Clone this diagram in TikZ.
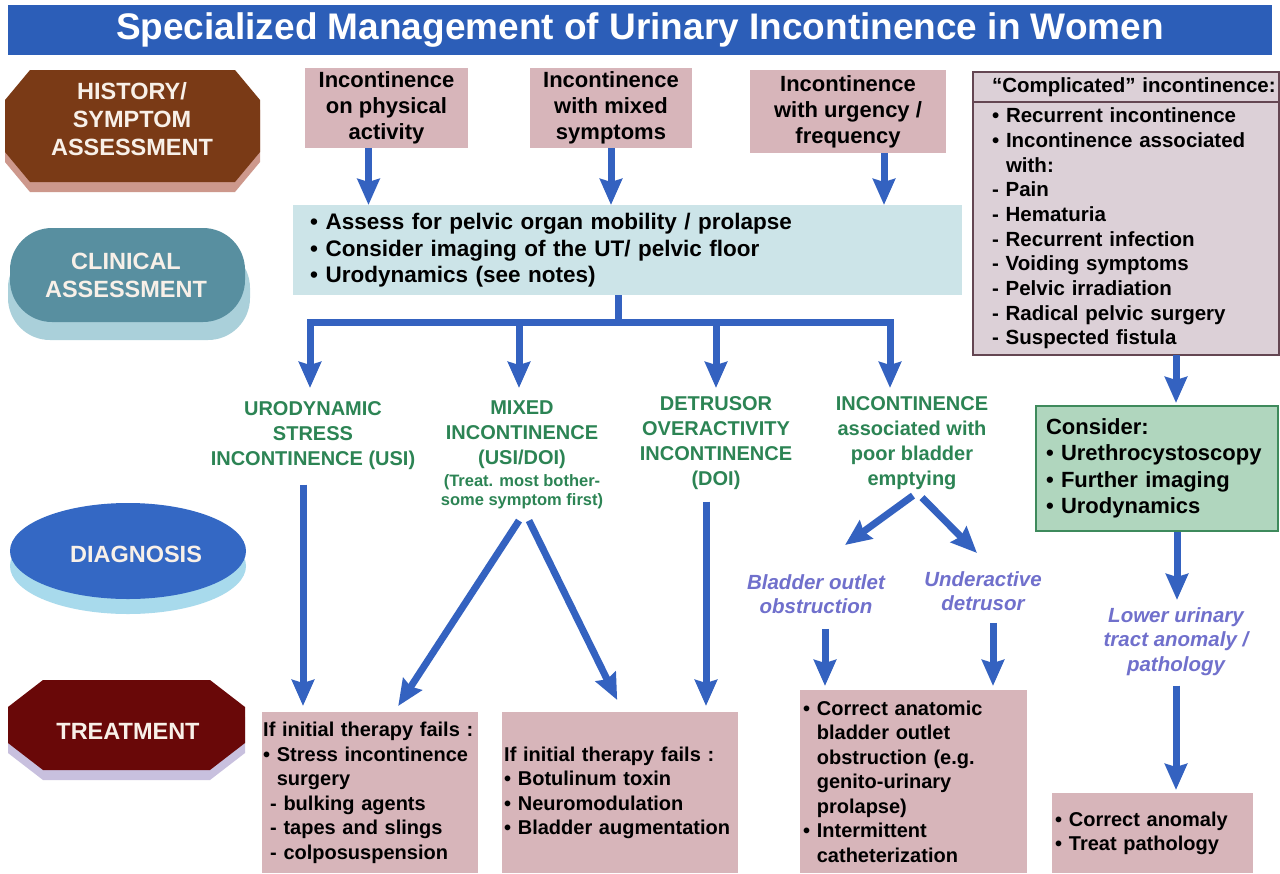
\documentclass[tikz,border=0pt]{standalone}
\usepackage{fontspec}
\setmainfont{Liberation Sans}
\usepackage{tikz}
\usetikzlibrary{arrows.meta}
\usetikzlibrary{positioning}
\definecolor{titleblue}{RGB}{44,94,184}
\definecolor{arrowblue}{RGB}{52,98,192}
\definecolor{pinkbox}{RGB}{215,181,186}
\definecolor{clinblue}{RGB}{204,228,232}
\definecolor{compfill}{RGB}{220,208,215}
\definecolor{compborder}{RGB}{100,70,82}
\definecolor{considerfill}{RGB}{176,214,190}
\definecolor{considerborder}{RGB}{62,138,92}
\definecolor{diaggreen}{RGB}{44,132,84}
\definecolor{lavender}{RGB}{112,112,204}
\definecolor{labeltext}{RGB}{248,240,232}
\definecolor{histbrown}{RGB}{122,58,22}
\definecolor{histshadow}{RGB}{205,152,140}
\definecolor{clinteal}{RGB}{88,143,160}
\definecolor{clinshadow}{RGB}{170,208,218}
\definecolor{diagblue}{RGB}{52,104,196}
\definecolor{diagshadow}{RGB}{168,218,236}
\definecolor{treatred}{RGB}{105,8,8}
\definecolor{treatshadow}{RGB}{200,192,222}
\tikzstyle{titlebar} = [rectangle, fill=titleblue, minimum width=1264pt, minimum height=50pt,
  text=white, font=\fontsize{37}{40}\selectfont\bfseries]
\tikzstyle{sidelabel} = [align=center, text=labeltext, font=\fontsize{23.5}{28}\selectfont\bfseries]
\tikzstyle{symbox} = [rectangle, fill=pinkbox, align=center, font=\fontsize{22}{26}\selectfont\bfseries]
\tikzstyle{clinbox} = [rectangle, fill=clinblue, anchor=north west, align=left, inner ysep=0pt,
  font=\fontsize{22.5}{26.5}\selectfont\bfseries]
\tikzstyle{treatbox} = [rectangle, fill=pinkbox, anchor=north west, align=left, inner ysep=0pt,
  font=\fontsize{20}{24.5}\selectfont\bfseries]
\tikzstyle{compbox} = [rectangle, fill=compfill, draw=compborder, line width=2pt, outer sep=0pt,
  anchor=north west, align=left, inner ysep=0pt, font=\fontsize{20.5}{24.7}\selectfont\bfseries]
\tikzstyle{considerbox} = [rectangle, fill=considerfill, draw=considerborder, line width=2pt,
  anchor=north west, align=left, inner ysep=0pt, font=\fontsize{22}{26.5}\selectfont\bfseries]
\tikzstyle{diagtext} = [anchor=north, inner sep=0pt, align=center, text=diaggreen,
  font=\fontsize{20}{25}\selectfont\bfseries]
\tikzstyle{notetext} = [inner sep=0pt, align=center, text=diaggreen, font=\fontsize{16.5}{19.5}\selectfont\bfseries]
\tikzstyle{lavtext} = [anchor=north, inner sep=0pt, align=center, text=lavender,
  font=\fontsize{20.5}{24.5}\selectfont\bfseries\itshape]
\tikzstyle{bar} = [line width=7pt, draw=arrowblue]
\tikzstyle{arrow} = [line width=7pt, draw=arrowblue, -{Stealth[width=22pt,length=26pt,inset=3pt]}]

\begin{document}
\begin{tikzpicture}[x=1pt, y=-1pt] % pixel grid, y going down
  \useasboundingbox (0,0) rectangle (1280,873);
  \fill [white] (0,0) rectangle (1280,873);
  \node (title) [titlebar] at (640,30) {Specialized Management of Urinary Incontinence in Women};

  % row labels on the left
  \fill [histshadow] (30,80) -- (235,80) -- (260,110) -- (260,162) -- (235,192) -- (30,192) -- (5,162) -- (5,110) -- cycle;
  \fill [histbrown] (30,70) -- (235,70) -- (260,100) -- (260,152) -- (235,182) -- (30,182) -- (5,152) -- (5,100) -- cycle;
  \node (hist) [sidelabel] at (132,119) {HISTORY/\\SYMPTOM\\ASSESSMENT};
  \fill [clinshadow, rounded corners=42pt] (8,246) rectangle (250,340);
  \fill [clinteal, rounded corners=42pt] (10,228) rectangle (245,322);
  \node (clinlabel) [sidelabel] at (126,275) {CLINICAL\\ASSESSMENT};
  \fill [diagshadow] (128,566) ellipse [x radius=118pt, y radius=48pt];
  \fill [diagblue] (128,551) ellipse [x radius=118pt, y radius=48pt];
  \node (diaglabel) [sidelabel] at (136,554) {DIAGNOSIS};
  \fill [treatshadow] (43,690) -- (210,690) -- (245,717) -- (245,753) -- (210,780) -- (43,780) -- (8,753) -- (8,717) -- cycle;
  \fill [treatred] (43,680) -- (210,680) -- (245,707) -- (245,743) -- (210,770) -- (43,770) -- (8,743) -- (8,707) -- cycle;
  \node (treatlabel) [sidelabel] at (128,731) {TREATMENT};

  \node (sym1) [symbox, minimum width=163pt, minimum height=80pt] at (386.5,108) {Incontinence\\on physical\\activity};
  \node (sym2) [symbox, minimum width=162pt, minimum height=80pt] at (611,108) {Incontinence\\with mixed\\symptoms};
  \node (sym3) [symbox, minimum width=196pt, minimum height=83pt] at (848,111.5) {Incontinence\\with urgency /\\frequency};
  \node (assess) [clinbox, minimum height=90pt, inner xsep=17pt, text width=635pt] at (293,205)
    {• Assess for pelvic organ mobility / prolapse\\• Consider imaging of the UT/ pelvic floor\\• Urodynamics (see notes)};
  \draw [arrow] ([xshift=-18pt]sym1.south) -- ([xshift=-18pt]sym1.south |- assess.north);
  \draw [arrow] (sym2.south) -- (sym2.south |- assess.north);
  \draw [arrow] ([xshift=36pt]sym3.south) -- ([xshift=36pt]sym3.south |- assess.north);

  \node (usi) [diagtext] at (313,401) {URODYNAMIC\\STRESS\\INCONTINENCE (USI)};
  \node (mixed) [diagtext] at (522,401) {MIXED\\INCONTINENCE\\(USI/DOI)};
  \node (mixednote) [notetext, below=5pt of mixed] {(Treat. most bother-\\some symptom first)};
  \node (doi) [diagtext] at (716,396) {DETRUSOR\\OVERACTIVITY\\INCONTINENCE\\(DOI)};
  \node (poor) [diagtext] at (912,396) {INCONTINENCE\\associated with\\poor bladder\\emptying};
  \coordinate (split) at ([xshift=-9.5pt, yshift=-27pt]assess.south);
  \draw [bar] ([xshift=-9.5pt]assess.south) -- (split);
  \draw [arrow, shorten >=13pt] (split) -| ([xshift=-3pt]usi.north);
  \draw [arrow, shorten >=13pt] (split) -| ([xshift=-3pt]mixed.north);
  \draw [arrow, shorten >=8pt] (split) -| (doi.north);
  \draw [arrow, shorten >=8pt] (split) -| ([xshift=-22pt]poor.north);

  \node (bladder) [lavtext] at (816,574) {Bladder outlet\\obstruction};
  \node (under) [lavtext] at (983,571) {Underactive\\detrusor};

  \node (treat1) [treatbox, minimum height=161pt, inner xsep=1pt, text width=214pt] at (262,712)
    {\mbox{If initial therapy fails :}\\• Stress incontinence\\\phantom{• }surgery\\\phantom{•}- bulking agents\\\phantom{•}- tapes and slings\\\phantom{•}- colposuspension};
  \node (treat2) [treatbox, minimum height=161pt, inner xsep=2pt, text width=232pt] at (502,712)
    {If initial therapy fails :\\• Botulinum toxin\\• Neuromodulation\\• Bladder augmentation};
  \node (treat3) [treatbox, minimum height=183pt, inner xsep=3pt, text width=221pt] at (800,690)
    {• Correct anatomic\\\phantom{• }bladder outlet\\\phantom{• }obstruction (e.g.\\\phantom{• }genito-urinary\\\phantom{• }prolapse)\\• Intermittent\\\phantom{• }catheterization};

  \draw [arrow, shorten >=6pt] ([xshift=-10pt, yshift=-15pt]usi.south) -- ([xshift=-10pt]usi.south |- treat1.north);
  \draw [arrow] ([xshift=-3pt, yshift=-11pt]mixednote.south) -- ([xshift=28pt, yshift=6pt]treat1.north);
  \draw [arrow] ([xshift=7pt, yshift=-11pt]mixednote.south) -- ([xshift=-3pt, yshift=12pt]treat2.north);
  \draw [arrow, shorten >=6pt] ([xshift=-10pt, yshift=-12pt]doi.south) -- ([xshift=-10pt]doi.south |- treat2.north);
  \draw [arrow] ([xshift=1pt, yshift=-6pt]poor.south) -- ([xshift=29pt, yshift=29pt]bladder.north);
  \draw [arrow] ([xshift=10pt, yshift=-8pt]poor.south) -- ([xshift=-6pt, yshift=18pt]under.north);
  \draw [arrow, shorten >=4pt] ([xshift=9pt, yshift=-15pt]bladder.south) -- ([xshift=9pt]bladder.south |- treat3.north);
  \draw [arrow, shorten >=4pt] ([xshift=10pt, yshift=-12pt]under.south) -- ([xshift=10pt]under.south |- treat3.north);

  % right column
  \node (comphead) [compbox, minimum height=30pt, inner xsep=19pt, text width=268pt] at (973,72)
    {\mbox{“Complicated” incontinence:}};
  \node (comp) [compbox, minimum height=253pt, inner xsep=19pt, text width=268pt, below=0pt of comphead]
    {• Recurrent incontinence\\• Incontinence associated\\\phantom{• }with:\\- Pain\\- Hematuria\\- Recurrent infection\\- Voiding symptoms\\- Pelvic irradiation\\- Radical pelvic surgery\\- Suspected fistula};
  \node (consider) [considerbox, minimum height=125pt, inner xsep=10pt, text width=222pt] at (1035,405)
    {Consider:\\• Urethrocystoscopy\\• Further imaging\\• Urodynamics};
  \node (lower) [lavtext] at (1176,607) {Lower urinary\\tract anomaly /\\pathology};
  \node (treat4) [treatbox, minimum height=80pt, inner xsep=3pt, text width=195pt] at (1052,793)
    {• Correct anomaly\\• Treat pathology};
  \draw [arrow, shorten >=2pt] ([xshift=50pt]comp.south) -- ([xshift=50pt]comp.south |- consider.north);
  \draw [arrow, shorten >=7pt] ([xshift=20pt]consider.south) -- ([xshift=20pt]consider.south |- lower.north);
  \draw [arrow, shorten >=3pt] ([yshift=-10pt]lower.south) -- (lower.south |- treat4.north);
\end{tikzpicture}
\end{document}
